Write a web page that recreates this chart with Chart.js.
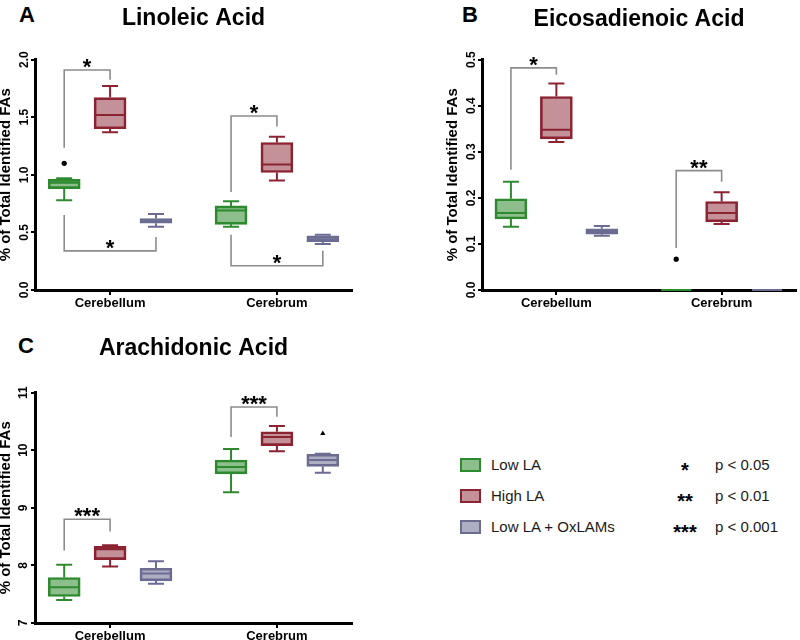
<!DOCTYPE html>
<html>
<head>
<meta charset="utf-8">
<title>Fatty acids box plots</title>
<script src="https://cdn.jsdelivr.net/npm/chart.js@4.4.1/dist/chart.umd.min.js"></script>
<style>
  html, body { margin: 0; padding: 0; background: #fff; }
  body { width: 800px; height: 640px; position: relative; overflow: hidden; font-family: 'Liberation Sans', Arial, sans-serif; }
  canvas { position: absolute; }
  .letter { position: absolute; font-weight: bold; font-size: 22px; line-height: 22px; color: #000; }
  .row { position: absolute; left: 0; width: 400px; height: 20px; line-height: 20px; font-size: 15px; color: #1a1a1a; }
  .row .sw { position: absolute; left: 60px; top: 3px; width: 17px; height: 10px; border: 2px solid; }
  .row .lbl { position: absolute; left: 91px; }
  .row .stars { position: absolute; left: 255px; width: 60px; text-align: center; font-weight: bold; font-size: 20px; top: 5px; color: #000; }
  .row .p { position: absolute; left: 315px; }
</style>
</head>
<body>
<div class="letter" style="left:19px; top:4px;">A</div>
<div class="letter" style="left:462px; top:4px;">B</div>
<div class="letter" style="left:18px; top:335px;">C</div>

<canvas id="chartA" width="390" height="320" style="left:0; top:0;"></canvas>
<canvas id="chartB" width="400" height="320" style="left:400px; top:0;"></canvas>
<canvas id="chartC" width="390" height="330" style="left:0; top:320px;"></canvas>
<div id="legend" style="position:absolute; left:400px; top:0;"></div>

<script>
const categories = ['Cerebellum', 'Cerebrum'];
const groups = ['Low LA', 'High LA', 'Low LA + OxLAMs'];
const sigStars = ['*', '**', '***'];
const sigLabels = ['p < 0.05', 'p < 0.01', 'p < 0.001'];

// box stats per category: [min, q1, median, q3, max]
const linoleicLowLA = [[0.78, 0.88, 0.93, 0.96, 0.97], [0.55, 0.57, 0.69, 0.73, 0.77]];
const linoleicHighLA = [[1.37, 1.40, 1.52, 1.67, 1.77], [0.95, 1.02, 1.09, 1.28, 1.33]];
const linoleicOxLAMs = [[0.55, 0.58, 0.60, 0.62, 0.66], [0.40, 0.42, 0.44, 0.47, 0.48]];
// outliers: [group, category, value]
const linoleicOutliers = [[0, 0, 1.10]];
// brackets: [category, fromGroup, toGroup, leftEnd, barLevel, rightEnd, stars]
const linoleicBrackets = [
  [0, 0, 1, 1.235, 1.91, 1.826, '*'],
  [0, 0, 2, 0.65, 0.34, 0.46, '*'],
  [1, 0, 1, 0.85, 1.51, 1.42, '*'],
  [1, 0, 2, 0.48, 0.21, 0.34, '*']
];

const eicosLowLA = [[0.137, 0.154, 0.167, 0.198, 0.235], [0, 0, 0, 0, 0]];
const eicosHighLA = [[0.321, 0.328, 0.348, 0.420, 0.448], [0.143, 0.148, 0.167, 0.192, 0.212]];
const eicosOxLAMs = [[0.118, 0.121, 0.128, 0.133, 0.139], [0, 0, 0, 0, 0]];
const eicosOutliers = [[0, 1, 0.067]];
const eicosBrackets = [
  [0, 0, 1, 0.261, 0.482, 0.467, '*'],
  [1, 0, 1, 0.091, 0.259, 0.235, '**']
];

const araLowLA = [[7.40, 7.46, 7.62, 7.79, 8.01], [9.27, 9.59, 9.71, 9.83, 10.02]];
const araHighLA = [[7.98, 8.10, 8.28, 8.33, 8.35], [9.98, 10.08, 10.23, 10.32, 10.42]];
const araOxLAMs = [[7.68, 7.73, 7.86, 7.95, 8.07], [9.61, 9.72, 9.83, 9.93, 9.94]];
const araOutliers = [[2, 1, 10.29]];
const araBrackets = [
  [0, 0, 1, 8.26, 8.80, 8.59, '***'],
  [1, 0, 1, 10.23, 10.75, 10.58, '***']
];

const FONT = "'Liberation Sans', Arial, sans-serif";
const strokes = ['#2f8a2f', '#8c2333', '#6c6c92'];
const fills = ['rgba(47,138,47,0.55)', 'rgba(140,35,51,0.5)', 'rgba(108,108,146,0.55)'];
const groupShift = [-0.275, 0, 0.275];

// whiskers, medians and significance brackets
function boxPlugin(cfg) {
  return {
    id: 'boxWhiskers',
    afterDatasetsDraw(chart) {
      const { ctx, scales: { x, y } } = chart;
      ctx.save();
      ctx.lineWidth = 2;
      cfg.stats.forEach((series, g) => {
        series.forEach((s, ci) => {
          const cx = x.getPixelForValue(ci + groupShift[g]);
          const [mn, q1, med, q3, mx] = s.map(v => y.getPixelForValue(v));
          ctx.strokeStyle = strokes[g];
          ctx.beginPath();
          ctx.moveTo(cx, q3); ctx.lineTo(cx, mx);
          ctx.moveTo(cx - 8, mx); ctx.lineTo(cx + 8, mx);
          ctx.moveTo(cx, q1); ctx.lineTo(cx, mn);
          ctx.moveTo(cx - 8, mn); ctx.lineTo(cx + 8, mn);
          ctx.moveTo(cx - 15, med); ctx.lineTo(cx + 15, med);
          ctx.stroke();
        });
      });

      ctx.strokeStyle = '#8c8c8c';
      ctx.lineWidth = 1.6;
      ctx.fillStyle = '#000';
      ctx.font = 'bold 22px ' + FONT;
      ctx.textAlign = 'center';
      ctx.textBaseline = 'alphabetic';
      cfg.brackets.forEach(([ci, g1, g2, a, b, c, label]) => {
        const x1 = x.getPixelForValue(ci + groupShift[g1]);
        const x2 = x.getPixelForValue(ci + groupShift[g2]);
        const ya = y.getPixelForValue(a);
        const yb = y.getPixelForValue(b);
        const yc = y.getPixelForValue(c);
        ctx.beginPath();
        ctx.moveTo(x1, ya); ctx.lineTo(x1, yb); ctx.lineTo(x2, yb); ctx.lineTo(x2, yc);
        ctx.stroke();
        ctx.fillText(label, (x1 + x2) / 2, yb + 4);
      });
      ctx.restore();
    }
  };
}

function makePanel(id, cfg) {
  const datasets = cfg.stats.map((series, g) => ({
    type: 'bar',
    label: groups[g],
    data: categories.map((c, ci) => ({ x: ci + groupShift[g], y: [series[ci][1], series[ci][3]] })),
    backgroundColor: fills[g],
    borderColor: strokes[g],
    borderWidth: 2,
    borderSkipped: false,
    grouped: false,
    barThickness: 32,
    maxBarThickness: 32
  }));
  datasets.push({
    type: 'scatter',
    label: 'outliers',
    data: cfg.outliers.map(o => ({ x: o[1] + groupShift[o[0]], y: o[2] })),
    pointStyle: cfg.marker,
    pointRadius: cfg.marker === 'triangle' ? 3 : 2.6,
    backgroundColor: '#000',
    borderColor: '#000',
    borderWidth: 0
  });

  return new Chart(document.getElementById(id), {
    type: 'bar',
    data: { datasets },
    options: {
      responsive: false,
      animation: false,
      layout: { padding: cfg.pad },
      plugins: {
        legend: { display: false },
        tooltip: { enabled: false },
        title: {
          display: true,
          text: cfg.title,
          fullSize: false,
          color: '#000',
          font: { family: FONT, size: 23, weight: 'bold', lineHeight: 1.2 },
          padding: cfg.titlePad
        }
      },
      scales: {
        x: {
          type: 'linear',
          offset: false,
          min: -0.45,
          max: 1.45,
          afterBuildTicks: s => { s.ticks = categories.map((c, i) => ({ value: i })); },
          afterFit: s => { s.height = 24; },
          ticks: {
            callback: v => categories[v],
            autoSkip: false,
            maxRotation: 0,
            padding: 1,
            color: '#000',
            font: { family: FONT, size: 13, weight: 'bold' }
          },
          grid: { offset: false, drawOnChartArea: false, tickLength: 5, color: '#000', lineWidth: 2 },
          border: { color: '#000', width: 3 }
        },
        y: {
          min: cfg.yMin,
          max: cfg.yMax,
          afterFit: s => { s.width = 35; },
          ticks: {
            stepSize: cfg.yStep,
            callback: v => v.toFixed(cfg.yDecimals),
            minRotation: 90,
            maxRotation: 90,
            crossAlign: 'center',
            padding: cfg.yTickPad,
            color: '#000',
            font: { family: FONT, size: 12, weight: 'bold' }
          },
          grid: { drawOnChartArea: false, tickLength: 4, color: '#000', lineWidth: 2 },
          border: { color: '#000', width: 3 },
          title: {
            display: true,
            text: '% of Total Identified FAs',
            color: '#000',
            font: { family: FONT, size: 15, weight: 'bold', lineHeight: 1 },
            padding: { top: -2, bottom: 0 }
          }
        }
      }
    },
    plugins: [boxPlugin(cfg)]
  });
}

makePanel('chartA', {
  title: 'Linoleic Acid',
  stats: [linoleicLowLA, linoleicHighLA, linoleicOxLAMs],
  outliers: linoleicOutliers,
  brackets: linoleicBrackets,
  marker: 'circle',
  yMin: 0, yMax: 2, yStep: 0.5, yDecimals: 1, yTickPad: -2,
  pad: { top: 0, left: 0, right: 38, bottom: 6 },
  titlePad: { top: 5, bottom: 27 }
});

makePanel('chartB', {
  title: 'Eicosadienoic Acid',
  stats: [eicosLowLA, eicosHighLA, eicosOxLAMs],
  outliers: eicosOutliers,
  brackets: eicosBrackets,
  marker: 'circle',
  yMin: 0, yMax: 0.5, yStep: 0.1, yDecimals: 1, yTickPad: -2,
  pad: { top: 0, left: 47, right: 2, bottom: 6 },
  titlePad: { top: 6, bottom: 26 }
});

makePanel('chartC', {
  title: 'Arachidonic Acid',
  stats: [araLowLA, araHighLA, araOxLAMs],
  outliers: araOutliers,
  brackets: araBrackets,
  marker: 'triangle',
  yMin: 7, yMax: 11, yStep: 1, yDecimals: 0, yTickPad: 1,
  pad: { top: 0, left: 0, right: 38, bottom: 3 },
  titlePad: { top: 15, bottom: 30 }
});

// legend: diet groups and significance levels
const legend = document.getElementById('legend');
const rowCenters = [465, 496, 527];
groups.forEach((name, g) => {
  const row = document.createElement('div');
  row.className = 'row';
  row.style.top = (rowCenters[g] - 10) + 'px';
  row.innerHTML =
    '<span class="sw" style="border-color:' + strokes[g] + '; background:' + fills[g] + ';"></span>' +
    '<span class="lbl"></span><span class="stars"></span><span class="p"></span>';
  row.querySelector('.lbl').textContent = name;
  row.querySelector('.stars').textContent = sigStars[g];
  row.querySelector('.p').textContent = sigLabels[g];
  legend.appendChild(row);
});
</script>
</body>
</html>
